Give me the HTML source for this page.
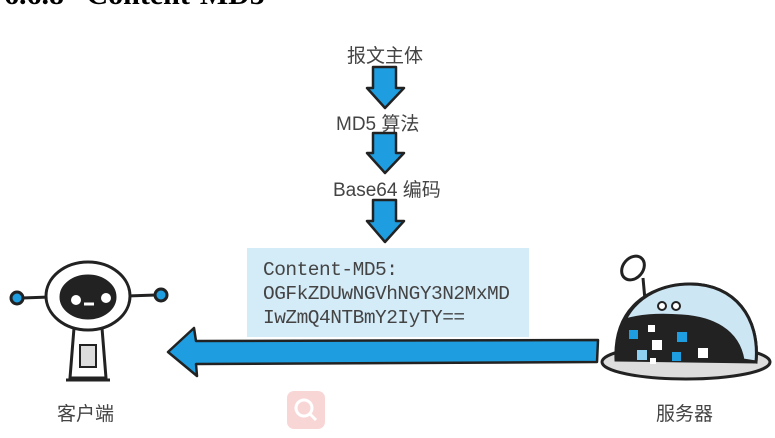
<!DOCTYPE html>
<html><head><meta charset="utf-8"><style>
body{margin:0;width:775px;height:438px;background:#fff;position:relative;overflow:hidden;font-family:"Liberation Sans","Noto Sans CJK SC",sans-serif}
.t{position:absolute;color:#444;font-size:19px;white-space:nowrap}
.title{position:absolute;left:4px;top:-22px;font:bold 30px "Liberation Serif",serif;color:#000;white-space:nowrap}
.box{position:absolute;left:247px;top:248px;width:282px;height:89px;background:#d4ebf8}
.code{position:absolute;left:263px;top:258px;font:19.5px/24px "Liberation Mono",monospace;color:#444;white-space:pre;letter-spacing:-0.5px}
</style></head><body>
<div class="title">6.6.8&nbsp;&nbsp;&nbsp;Content-MD5</div>
<div class="box"></div>
<div class="code">Content-MD5:
OGFkZDUwNGVhNGY3N2MxMD
IwZmQ4NTBmY2IyTY==</div>
<div class="t" style="left:347px;top:41px">报文主体</div>
<div class="t" style="left:336px;top:109px">MD5 算法</div>
<div class="t" style="left:333px;top:175px">Base64 编码</div>
<div class="t" style="left:57px;top:399px">客户端</div>
<div class="t" style="left:656px;top:399px">服务器</div>
<svg width="775" height="438" style="position:absolute;left:0;top:0">
<g fill="#1e9ee0" stroke="#222" stroke-width="2.5" stroke-linejoin="round">
<path d="M373 67 L396 67 L396 88 L404 88 L385 108 L367 88 L373 88Z"/>
<path d="M373 133 L396 133 L396 153 L404 153 L385 173 L367 153 L373 153Z"/>
<path d="M373 200 L396 200 L396 221 L404 221 L385 242 L367 221 L373 221Z"/>
<path d="M598 340 L597 362 L196 364 L197 376 L168 352 L194 328 L196 341Z"/>
</g>
<rect x="287" y="391" width="38" height="38" rx="7" fill="#f9d6d6"/>
<circle cx="304" cy="408" r="8" fill="none" stroke="#fff" stroke-width="3"/>
<line x1="310" y1="414" x2="316" y2="420" stroke="#fff" stroke-width="3"/>
<g stroke="#222" stroke-width="3">
<line x1="22" y1="298" x2="50" y2="297"/><line x1="126" y1="296" x2="156" y2="295"/>
<circle cx="17" cy="298" r="6" fill="#1e9ee0"/><circle cx="161" cy="295" r="6" fill="#1e9ee0"/>
<path d="M74 328 L102 328 L106 378 L70 378Z" fill="#fff"/>
<rect x="80" y="345" width="16" height="22" fill="#ddd" stroke-width="2"/>
<ellipse cx="88" cy="296" rx="42" ry="34" fill="#fff"/>
<ellipse cx="88" cy="297" rx="27" ry="21" fill="#222"/>
<line x1="66" y1="380" x2="110" y2="380"/>
</g>
<circle cx="76" cy="300" r="5" fill="#fff"/><circle cx="106" cy="298" r="5" fill="#fff"/>
<line x1="84" y1="304" x2="94" y2="304" stroke="#fff" stroke-width="3"/>
<g stroke="#222" stroke-width="3">
<line x1="643" y1="278" x2="645" y2="300"/>
<ellipse cx="633" cy="268" rx="10" ry="13" fill="#fff" transform="rotate(40 633 268)"/>
<ellipse cx="686" cy="362" rx="84" ry="17" fill="#ddd"/>
<path d="M616 360 C614 315 640 286 690 284 C735 284 760 318 756 362Z" fill="#222"/>
<path d="M625 320 C638 294 665 284 690 284 C735 284 760 318 756 362 L743 360 C738 330 712 318 682 316 C656 314 640 316 625 320Z" fill="#cde6f4"/>
</g>
<circle cx="662" cy="306" r="4" fill="#fff" stroke="#222" stroke-width="2"/>
<circle cx="676" cy="306" r="4" fill="#fff" stroke="#222" stroke-width="2"/>
<g>
<rect x="629" y="330" width="9" height="9" fill="#1e9ee0"/><rect x="648" y="325" width="7" height="7" fill="#fff"/>
<rect x="652" y="340" width="10" height="10" fill="#fff"/><rect x="677" y="332" width="10" height="10" fill="#1e9ee0"/>
<rect x="637" y="350" width="10" height="10" fill="#8fd0f0"/><rect x="672" y="352" width="9" height="9" fill="#1e9ee0"/>
<rect x="698" y="348" width="10" height="10" fill="#fff"/><rect x="650" y="358" width="6" height="6" fill="#fff"/>
</g>
</svg>
</body></html>
